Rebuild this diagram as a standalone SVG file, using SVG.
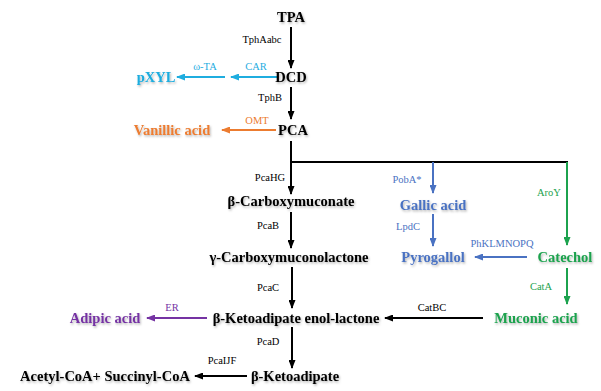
<svg xmlns="http://www.w3.org/2000/svg" width="601" height="391" viewBox="0 0 601 391" font-family="'Liberation Serif', serif">
<defs>
<filter id="sh" x="-10%" y="-30%" width="120%" height="160%">
<feDropShadow dx="1" dy="1.5" stdDeviation="1" flood-color="#000" flood-opacity="0.3"/>
</filter>
<marker id="mk" markerUnits="userSpaceOnUse" markerWidth="9" markerHeight="7" refX="8" refY="3.5" orient="auto"><path d="M0,0 L9,3.5 L0,7 z" fill="#000"/></marker>
<marker id="mc" markerUnits="userSpaceOnUse" markerWidth="9" markerHeight="7" refX="8" refY="3.5" orient="auto"><path d="M0,0 L9,3.5 L0,7 z" fill="#1FADDF"/></marker>
<marker id="mo" markerUnits="userSpaceOnUse" markerWidth="9" markerHeight="7" refX="8" refY="3.5" orient="auto"><path d="M0,0 L9,3.5 L0,7 z" fill="#EC7C30"/></marker>
<marker id="mb" markerUnits="userSpaceOnUse" markerWidth="9" markerHeight="7" refX="8" refY="3.5" orient="auto"><path d="M0,0 L9,3.5 L0,7 z" fill="#4A72C2"/></marker>
<marker id="mg" markerUnits="userSpaceOnUse" markerWidth="9" markerHeight="7" refX="8" refY="3.5" orient="auto"><path d="M0,0 L9,3.5 L0,7 z" fill="#1CA24E"/></marker>
<marker id="mp" markerUnits="userSpaceOnUse" markerWidth="9" markerHeight="7" refX="8" refY="3.5" orient="auto"><path d="M0,0 L9,3.5 L0,7 z" fill="#7533A3"/></marker>
</defs>
<style>
.n{font-weight:bold;font-size:14.5px;text-anchor:middle;filter:url(#sh)}
.l{font-size:10.5px;text-anchor:middle}
.k{fill:#000}.c{fill:#1FADDF}.o{fill:#EC7C30}.b{fill:#4A72C2}.g{fill:#1CA24E}.p{fill:#7533A3}
.a{fill:none;stroke-width:2}
.ak{stroke:#000;marker-end:url(#mk)}
.ac{stroke:#1FADDF;marker-end:url(#mc)}
.ao{stroke:#EC7C30;marker-end:url(#mo)}
.ab{stroke:#4A72C2;marker-end:url(#mb)}
.ag{stroke:#1CA24E;marker-end:url(#mg)}
.ap{stroke:#7533A3;marker-end:url(#mp)}
</style>
<rect width="601" height="391" fill="#fff"/>
<g id="connectors">
<line class="a ak" x1="291" y1="27" x2="291" y2="68"/>
<line class="a ak" x1="291" y1="87" x2="291" y2="119"/>
<line class="a ac" x1="277" y1="77" x2="231" y2="77"/>
<line class="a ac" x1="225" y1="77" x2="177" y2="77"/>
<line class="a ao" x1="276" y1="130" x2="222" y2="130"/>
<line class="a ak" x1="291" y1="141" x2="291" y2="194"/>
<polyline class="a" stroke="#000" points="291,162 568,162"/>
<line class="a ab" x1="433" y1="162" x2="433" y2="193"/>
<line class="a ag" x1="567" y1="162" x2="567" y2="245"/>
<line class="a ak" x1="291" y1="212" x2="291" y2="248"/>
<line class="a ab" x1="433" y1="214" x2="433" y2="246"/>
<line class="a ab" x1="527" y1="257" x2="475" y2="257"/>
<line class="a ak" x1="292" y1="267" x2="292" y2="308"/>
<line class="a ag" x1="567" y1="268" x2="567" y2="304"/>
<line class="a ak" x1="483" y1="318" x2="385" y2="318"/>
<line class="a ap" x1="207" y1="318" x2="147" y2="318"/>
<line class="a ak" x1="292" y1="327" x2="292" y2="368"/>
<line class="a ak" x1="247" y1="376" x2="195" y2="376"/>
</g>
<g id="labels">
<text class="l k" x="262" y="43">TphAabc</text>
<text class="l c" x="256" y="70">CAR</text>
<text class="l c" x="205" y="70">ω-TA</text>
<text class="l k" x="270" y="101">TphB</text>
<text class="l o" x="257" y="124">OMT</text>
<text class="l k" x="270" y="181">PcaHG</text>
<text class="l b" x="407" y="183">PobA*</text>
<text class="l g" x="549" y="196">AroY</text>
<text class="l k" x="268" y="229">PcaB</text>
<text class="l b" x="408" y="230">LpdC</text>
<text class="l b" x="502" y="247">PhKLMNOPQ</text>
<text class="l k" x="268" y="291">PcaC</text>
<text class="l g" x="541" y="290">CatA</text>
<text class="l p" x="172" y="311">ER</text>
<text class="l k" x="432" y="311">CatBC</text>
<text class="l k" x="268" y="345">PcaD</text>
<text class="l k" x="222" y="364">PcaIJF</text>
</g>
<g id="TPA"><text class="n k" x="291" y="22">TPA</text></g>
<g id="DCD"><text class="n k" x="291" y="82">DCD</text></g>
<g id="pXYL"><text class="n c" x="156" y="82">pXYL</text></g>
<g id="PCA"><text class="n k" x="293" y="135">PCA</text></g>
<g id="vanillic"><text class="n o" x="172" y="135">Vanillic acid</text></g>
<g id="bcarb"><text class="n k" x="291" y="206">β-Carboxymuconate</text></g>
<g id="gallic"><text class="n b" x="433" y="210">Gallic acid</text></g>
<g id="gcarb"><text class="n k" x="289" y="262">γ-Carboxymuconolactone</text></g>
<g id="pyrogallol"><text class="n b" x="433" y="262">Pyrogallol</text></g>
<g id="catechol"><text class="n g" x="565" y="262">Catechol</text></g>
<g id="enol"><text class="n k" x="296" y="323">β-Ketoadipate enol-lactone</text></g>
<g id="adipic"><text class="n p" x="105" y="323">Adipic acid</text></g>
<g id="muconic"><text class="n g" x="536" y="323">Muconic acid</text></g>
<g id="bketo"><text class="n k" x="295" y="381">β-Ketoadipate</text></g>
<g id="acetyl"><text class="n k" x="105" y="381">Acetyl-CoA+ Succinyl-CoA</text></g>
</svg>
